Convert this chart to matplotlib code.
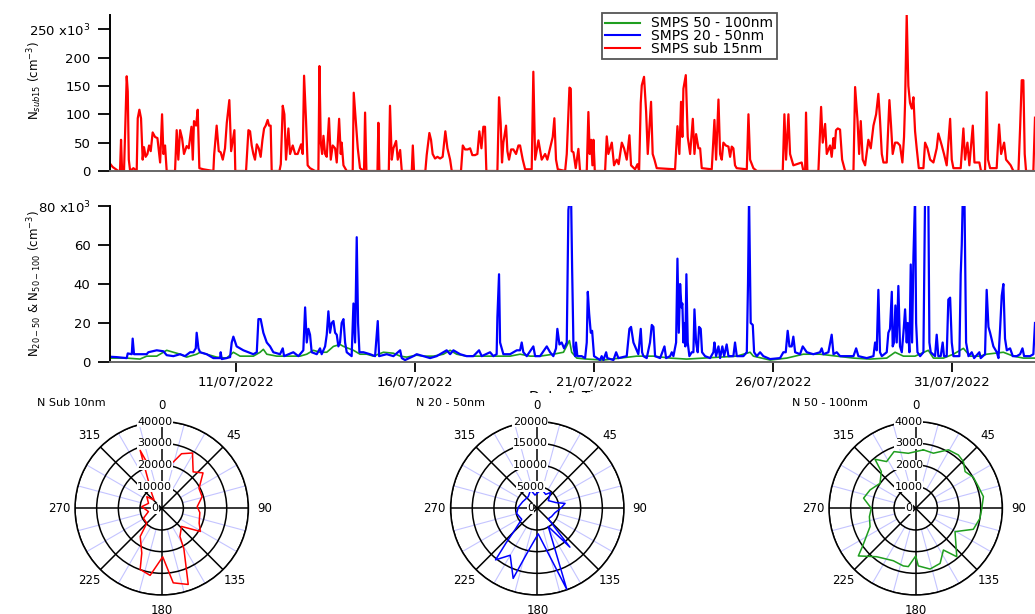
import numpy as np
import matplotlib
matplotlib.use("Agg")
import matplotlib.pyplot as plt
import matplotlib.dates as mdates
from matplotlib.lines import Line2D
from matplotlib.patches import Rectangle

# ---- time series (hours after 07/07/2022 00:00, values in 10^3 cm-3) ----
start_date = "2022-07-07"

red_hours = [11.5, 13.3, 17.1, 18.2, 18.9, 19.6, 20.9, 22.0, 22.7, 23.4,
             24.1, 25.0, 27.2, 29.4, 30.1, 31.2, 32.3, 33.4, 34.3, 35.4,
             36.6, 37.7, 38.8, 40.1, 41.7, 43.3, 45.1, 46.4, 47.3, 48.4,
             49.5, 55.1, 56.2, 57.3, 58.5, 59.8, 61.1, 62.9, 64.3, 66.1,
             67.0, 67.8, 69.2, 70.3, 71.4, 74.1, 80.8, 81.3, 83.0, 84.4,
             85.7, 87.1, 88.6, 89.8, 91.5, 92.7, 94.9, 95.5, 102.7, 104.3,
             105.4, 106.5, 107.6, 108.7, 109.9, 111.2, 112.5, 113.7, 114.8, 115.9,
             117.2, 118.1, 119.2, 119.9, 125.1, 126.0, 127.3, 128.4, 129.5, 131.1,
             132.2, 134.0, 135.6, 137.3, 139.6, 140.7, 141.6, 142.9, 144.0, 145.6,
             149.0, 151.2, 151.9, 152.8, 153.7, 154.6, 155.7, 156.8, 158.3, 159.5,
             160.8, 162.4, 163.5, 165.1, 166.2, 166.8, 168.0, 170.2, 174.2, 174.9,
             176.4, 177.6, 179.1, 181.8, 182.5, 183.4, 190.8, 191.4, 192.1, 198.4,
             199.2, 200.4, 201.5, 203.3, 204.4, 206.0, 207.1, 213.8, 214.5, 215.3,
             222.9, 223.8, 225.6, 226.7, 227.8, 229.4, 231.0, 232.8, 234.5, 236.3,
             237.7, 239.5, 240.6, 246.8, 248.0, 249.5, 251.3, 252.9, 254.4, 256.2,
             257.8, 259.1, 260.5, 261.8, 262.9, 263.8, 271.2, 272.3, 273.4, 274.3,
             275.2, 277.0, 277.9, 279.0, 280.4, 281.9, 283.7, 285.3,
             286.4, 288.2, 289.8, 294.2, 295.3, 296.5, 298.7, 300.9, 303.2, 304.7,
             306.5, 308.3, 309.4, 310.5, 311.7, 316.6, 317.7, 319.5, 320.4, 321.0,
             322.2, 323.7, 325.5, 326.6, 331.1, 332.2, 333.1, 334.0, 334.9, 335.6,
             336.5, 343.4, 344.5, 345.6, 347.9, 349.4, 351.2, 352.5, 354.6, 356.1,
             357.9, 359.7, 360.8, 363.5, 365.1, 366.2, 367.3, 368.0, 369.5, 370.9,
             372.0, 374.2, 375.3, 376.5, 378.0, 390.3, 391.9, 393.2, 394.3, 395.2,
             395.9, 397.5, 398.8, 400.4, 402.2, 403.3, 404.4, 406.0, 407.1, 408.2,
             414.9, 416.7, 417.8, 419.4, 420.5, 421.6, 422.7, 424.3, 426.1, 427.2,
             428.3, 429.4, 430.5, 431.6, 438.4, 439.5, 440.6, 442.8, 445.1, 462.5,
             463.6, 464.7, 466.3, 467.4, 469.6, 475.2, 476.3, 477.5, 478.1, 479.0,
             486.4, 488.2, 489.3, 490.9, 492.0, 494.2, 495.3, 496.5, 497.3, 498.2,
             499.4, 500.9, 502.3, 504.3, 509.9, 511.0, 512.6, 513.7, 514.8, 516.1,
             517.7, 519.9, 521.5, 523.3, 525.1, 526.6, 527.7, 528.9, 530.0, 532.2,
             534.0, 535.1, 536.2, 537.8, 539.4, 541.1, 542.7, 543.8, 544.5, 545.6,
             546.7, 547.8, 549.0, 550.1, 551.2, 552.3, 553.7, 556.8, 557.9, 559.5,
             561.3, 563.5, 565.7, 566.8, 569.1, 570.6, 572.4, 574.7, 575.8, 576.9,
             581.8, 583.6, 584.7, 586.3, 587.6, 589.9, 591.0, 594.3, 595.4, 598.1,
             599.2, 600.1, 601.5, 605.9, 607.5, 608.9, 610.9, 612.2, 613.8, 615.3,
             617.1, 620.5, 621.6, 622.7, 623.8, 624.7, 625.6, 630.5, 631.6]
red_vals = [13, 7, 0, 0, 55, 0, 0, 102, 167, 140,
            20, 0, 5, 0, 93, 108, 93, 20, 42, 25,
            30, 45, 35, 68, 60, 58, 15, 100, 30, 45,
            0, 0, 72, 20, 72, 58, 30, 44, 40, 78,
            20, 88, 80, 108, 5, 3, 0, 28, 80, 35,
            33, 20, 40, 85, 125, 35, 72, 0, 0, 72,
            70, 45, 30, 20, 47, 40, 25, 55, 75, 80,
            90, 80, 80, 0, 0, 12, 115, 100, 20, 75,
            30, 45, 30, 30, 47, 30, 168, 90, 10, 5,
            0, 0, 185, 50, 30, 62, 30, 25, 93, 20,
            45, 40, 15, 92, 30, 50, 10, 0, 0, 138,
            85, 40, 5, 0, 103, 0, 0, 85, 0, 0,
            115, 20, 40, 53, 20, 37, 0, 0, 45, 0,
            0, 28, 67, 55, 30, 22, 25, 22, 25, 70,
            40, 20, 0, 0, 45, 38, 38, 40, 28, 28,
            30, 70, 40, 78, 78, 0, 0, 130, 85, 15,
            50, 80, 35, 20, 38, 38, 30, 45,
            45, 20, 3, 3, 175, 20, 54, 20, 30, 20,
            40, 60, 93, 20, 3, 0, 30, 147, 145, 35,
            33, 5, 39, 0, 0, 104, 30, 55, 10, 55,
            0, 0, 61, 30, 50, 10, 20, 12, 50, 40,
            20, 63, 10, 3, 12, 0, 120, 151, 166, 105,
            30, 122, 30, 20, 5, 3, 79, 30, 122, 60,
            145, 169, 60, 30, 92, 30, 65, 40, 40, 5,
            3, 90, 20, 126, 30, 20, 50, 45, 43, 25,
            43, 40, 10, 5, 3, 100, 20, 5, 0, 0,
            100, 20, 100, 30, 10, 15, 0, 0, 103, 0,
            0, 113, 50, 83, 30, 45, 25, 58, 40, 72,
            75, 73, 20, 0, 0, 148, 90, 30, 88, 20,
            10, 55, 40, 80, 100, 136, 90, 30, 15, 15,
            125, 80, 30, 50, 50, 45, 15, 60, 120, 275,
            150, 120, 110, 130, 70, 40, 5, 5, 50, 40,
            20, 15, 40, 66, 45, 30, 10, 92, 20, 5,
            5, 75, 20, 50, 10, 80, 15, 15, 0, 0,
            139, 20, 5, 5, 82, 30, 50, 20, 15, 10,
            0, 0, 75, 160, 160, 30, 0, 0, 94]

blue_hours = [11.5, 16.0, 22.7, 23.4, 26.1, 26.7, 27.6, 36.1, 37.2, 42.8,
              47.3, 49.5, 54.0, 58.5, 61.8, 65.2, 67.4, 69.0, 69.6, 70.8,
              71.9, 76.3, 80.8, 85.3, 85.7, 86.4, 89.7, 92.0, 93.1, 94.2,
              96.4, 100.9, 107.6, 109.9, 111.0, 112.5, 114.3, 116.6, 118.8, 121.0,
              125.5, 127.3, 128.2, 134.4, 137.8, 141.1, 142.3, 143.4, 144.5, 145.6,
              146.7, 150.1, 152.3, 153.4, 155.7, 156.8, 157.9, 159.0, 160.1, 161.3,
              162.4, 163.5, 164.6, 165.7, 166.8, 168.0, 169.1, 170.2, 173.5, 174.7,
              175.8, 176.9, 177.8, 178.7, 181.4, 185.8, 189.2, 191.0, 191.9, 197.0,
              201.5, 206.0, 207.1, 209.3, 214.9, 217.1, 221.6, 226.1, 230.5, 235.0,
              237.2, 239.5, 241.7, 246.2, 250.6, 255.1, 258.9, 260.7, 266.3, 268.5,
              270.7, 271.2, 272.3, 273.0, 275.2, 279.7, 284.2,
              286.4, 287.5, 288.6, 290.9, 295.3, 296.5, 299.8, 304.3, 306.5, 308.7,
              310.5, 311.4, 312.8, 314.3, 315.9, 317.7, 318.8, 319.9, 320.6, 321.3,
              322.2, 323.3, 323.9, 324.8, 327.7, 330.0, 331.1, 331.8, 332.7, 333.8,
              334.7, 336.0, 340.0, 341.1, 342.3, 344.1, 344.9, 349.0, 350.8, 352.3,
              357.9, 359.7, 360.8, 362.4, 364.6, 365.7, 367.3, 368.2, 369.1, 371.3,
              373.5, 374.7, 375.8, 376.9, 380.3, 383.2, 384.3, 387.0, 388.1, 389.2,
              391.0, 391.9, 392.8, 393.7, 394.6, 395.2, 395.9, 396.6, 397.2, 397.9,
              398.8, 399.9, 401.5, 402.6, 403.3, 404.4, 405.5, 406.4, 407.5, 408.4,
              410.4, 413.8, 416.0, 416.7, 417.8, 419.4, 420.5, 422.0, 423.2, 424.9,
              426.1, 429.4, 430.5, 431.7, 436.1, 438.4, 439.2, 439.9, 441.0, 442.4,
              443.3, 445.1, 447.3, 449.5, 454.0, 460.7, 462.9, 464.5, 465.8, 467.0,
              468.5, 469.6, 470.8, 474.1, 475.9, 478.6, 483.0, 487.5, 488.6, 489.7,
              493.1, 495.3, 496.5, 498.7, 500.9, 509.9, 511.7, 513.2, 518.8, 523.3,
              524.4, 525.5, 526.6, 527.7, 528.9, 532.2, 533.3, 534.4, 535.6, 536.2,
              537.1, 538.0, 538.9, 540.0, 541.1, 542.3, 543.4, 544.5, 545.6, 546.3,
              547.4, 548.3, 549.2, 550.1, 551.2, 551.9, 552.8, 554.6, 556.8, 557.9,
              559.0, 560.1, 560.8, 561.7, 564.6, 565.7, 566.8, 568.4, 569.7, 570.6,
              572.4, 573.5, 574.7, 575.8, 576.9, 580.9, 581.8, 582.5, 583.2, 584.3,
              585.4, 587.0, 589.2, 590.8, 594.3, 595.2, 598.1, 599.2, 600.4, 601.5,
              603.7, 606.0, 607.1, 608.2, 609.3, 610.4, 611.5, 612.7, 614.9, 616.7,
              619.4, 621.6, 623.2, 624.3, 628.3, 630.5, 631.6]
blue_vals = [2.7, 2.5, 2, 4.4, 4, 12, 4, 4, 5, 6,
             5.5, 3.5, 3, 4, 3, 5, 5, 7, 15, 7,
             5, 4, 2, 2, 5, 1.5, 2, 2.5, 10, 13,
             8, 6, 4, 5, 22, 22, 15, 10, 8, 5,
             4, 7, 3, 5, 3, 6, 28, 10, 17, 14,
             5, 4, 7, 4, 8, 14, 26, 15, 20, 21,
             15, 14, 8, 10, 20, 22, 10, 5, 3, 30,
             10, 64, 20, 5, 5, 4, 3, 21, 3, 4,
             3, 6, 2, 1, 3, 4, 3, 2, 3, 5,
             6, 4, 6, 4, 3, 3, 6, 3, 5, 3,
             4, 23, 45, 10, 4, 4, 6,
             6, 10, 5, 3, 8, 3, 3, 8, 5, 3,
             7, 17, 9, 10, 7, 10, 78, 85, 85, 48,
             8, 3, 10, 3, 3, 2, 10, 36, 25, 15,
             16, 3, 1, 3, 1, 5, 2, 1, 5, 2,
             3, 17, 18, 10, 6, 4, 17, 5, 3, 2,
             10, 19, 18, 3, 2, 8, 2, 3, 5, 3,
             10, 53, 15, 40, 28, 30, 10, 20, 8, 45,
             10, 3, 5, 5, 27, 10, 5, 18, 17, 5,
             3, 2, 5, 10, 3, 8, 2, 8, 3, 9,
             3, 3, 10, 3, 3, 5, 40, 85, 20, 19,
             5, 3, 5, 3, 1.5, 2, 5, 5, 16, 8,
             8, 13, 5, 4, 8, 5, 4, 5, 7, 4,
             5, 14, 4, 5, 3, 3, 7, 3, 2, 3,
             10, 6, 37, 5, 3, 5, 15, 17, 36, 8,
             10, 29, 10, 39, 8, 5, 15, 27, 10, 20,
             5, 50, 10, 54, 85, 20, 5, 3, 5, 85,
             85, 85, 10, 5, 3, 14, 3, 3, 10, 3,
             3, 32, 33, 10, 3, 3, 45, 60, 85, 85,
             10, 3, 5, 2, 5, 2, 4, 37, 18, 15,
             8, 5, 2, 17, 34, 40, 12, 6, 7, 3,
             3, 4, 7, 3, 3, 4, 20]

green_hours = [11.5, 22.7, 31.6, 36.1, 42.8, 49.5, 54.0, 58.5, 62.9, 69.6,
               71.9, 76.3, 83.0, 89.7, 94.2, 98.7, 107.6, 112.1, 114.3, 116.6,
               123.3, 132.2, 138.9, 143.4, 147.8, 152.3, 156.8, 161.3, 165.7, 168.0,
               174.7, 179.1, 183.6, 188.1, 194.8, 201.5, 206.0, 210.4, 217.1, 221.6,
               228.3, 235.0, 239.5, 243.9, 250.6, 259.6, 266.3, 273.0, 279.7,
               286.4, 293.1, 299.8, 308.7, 315.5, 319.5, 321.0, 324.4, 331.1, 342.3,
               353.4, 364.6, 375.8, 387.0, 398.1, 409.3, 420.5, 431.7, 440.6, 442.8,
               454.0, 465.2, 476.3, 487.5, 498.7, 509.9, 521.0, 532.2, 537.8, 543.4,
               551.2, 560.1, 563.5, 570.2, 576.9, 583.6, 588.1, 594.8, 599.2, 610.4,
               617.1, 623.8, 631.6]
green_vals = [2, 2, 1.5, 3, 3, 6, 5, 4, 2.5, 4,
              5, 4, 2.5, 2, 5, 3, 3, 5, 6.5, 4,
              3, 3, 3, 4, 6, 5, 5, 8, 9, 8,
              6, 4, 4, 3, 5, 4.5, 3, 2.5, 3.5, 3,
              3, 4, 6, 4, 3, 3, 3, 3, 3,
              4, 3, 3, 4, 5, 11, 5, 2, 1.5, 1,
              2, 3, 3, 2, 1.5, 2, 2.5, 3, 5, 3,
              1, 2, 4, 4, 3, 2, 1.5, 2, 5, 3,
              3, 6, 2, 2, 4, 7, 3, 3, 4, 5,
              3, 2, 2]

date_ticks = ["2022-07-11", "2022-07-16", "2022-07-21", "2022-07-26", "2022-07-31"]
x_range_hours = [11.5, 631.6]

# ---- wind roses (direction in degrees, concentration in cm-3) ----
sub10_dir = [2.3, 14.0, 20.0, 29.1, 40.8, 49.4, 62.0, 74.0, 87.3, 96.4,
             111.7, 120.9, 132.5, 147.1, 151.4, 160.8, 171.2, 178.8, 189.8, 199.4,
             204.0, 217.4, 225.0, 241.4, 256.0, 274.8, 290.6, 307.9, 317.4, 326.3,
             339.6, 343.3]
sub10_conc = [19100, 22000, 26800, 29200, 22200, 25100, 19500, 19400, 16400, 17700,
              18600, 20800, 12400, 15500, 21400, 37200, 34800, 22400, 31400, 29900,
              22600, 16300, 9700, 9600, 6300, 9200, 6500, 8700, 5200, 8300,
              28500, 20200]
n2050_dir = [13, 31, 40, 55, 73, 80, 90, 104, 120, 134,
             140, 149, 160, 178, 193, 199, 210, 219, 222, 226,
             235, 256, 273, 294, 322, 340, 350]
n2050_conc = [4500, 3750, 4750, 3100, 4500, 6500, 5400, 4200, 3800, 3500,
              11700, 4900, 19900, 5900, 10700, 17100, 12500, 15300, 10800, 7200,
              4400, 4900, 4400, 3700, 3400, 4500, 3100]
n50100_dir = [7.5, 17.8, 29.2, 38.7, 45.6, 53.4, 61.7, 70.9, 80.2, 90.0,
              98.8, 110.0, 120.7, 139.7, 146.4, 156.1, 166.7, 177.4, 180.0, 187.2,
              192.1, 203.1, 218.9, 230.3, 234.6, 248.1, 259.8, 270.0, 281.0, 291.9,
              305.0, 316.9, 320.3, 328.1, 339.1, 352.4]
n50100_conc = [2720, 2670, 3090, 3150, 3080, 2840, 3020, 3060, 3170, 3050,
               3000, 2830, 2110, 2930, 2310, 2780, 2880, 2660, 2200, 2710,
               2720, 2630, 2870, 3440, 3000, 2270, 2170, 2050, 2450, 2270,
               2010, 2320, 2940, 2540, 2800, 2560]

RED = "#ff0000"
BLUE = "#0000ff"
GREEN = "#1f9e1f"

plt.rcParams["font.family"] = ["DejaVu Sans"]

W, H = 1035, 614
fig = plt.figure(figsize=(W / 100, H / 100), dpi=100)

t0 = mdates.date2num(np.datetime64(start_date))


def to_num(hours):
    return t0 + np.asarray(hours, dtype=float) / 24.0


def style_line_axes(ax):
    ax.spines["top"].set_visible(False)
    ax.spines["right"].set_visible(False)
    ax.spines["left"].set_linewidth(1.4)
    ax.spines["bottom"].set_color("#666666")
    ax.spines["bottom"].set_linewidth(1.4)
    ax.tick_params(axis="y", direction="out", length=9, width=1.3, pad=5, labelsize=9.5)
    ax.set_xlim(to_num(x_range_hours))
    ax.patch.set_alpha(0)


# top panel
ax1 = fig.add_axes([110 / W, 1 - 171 / H, 925 / W, 156 / H])
ax1.plot(to_num(red_hours), red_vals, color=RED, lw=1.6)
ax1.set_ylim(0, 275)
ax1.set_yticks([0, 50, 100, 150, 200, 250])
ax1.set_yticklabels(["0", "50", "100", "150", "200", "250 x10$^{3}$"])
style_line_axes(ax1)
ax1.tick_params(axis="x", length=0, labelbottom=False)
ax1.set_ylabel("N$_{sub15}$ (cm$^{-3}$)", fontsize=8.5)
ax1.yaxis.set_label_coords(-66 / 925, 0.58)

handles = [Line2D([], [], color=GREEN, lw=1.5),
           Line2D([], [], color=BLUE, lw=1.5),
           Line2D([], [], color=RED, lw=1.5)]
leg = ax1.legend(handles, ["SMPS 50 - 100nm", "SMPS 20 - 50nm", "SMPS sub 15nm"],
                 loc="upper left", bbox_to_anchor=(602 / W, 1 - 13 / H),
                 bbox_transform=fig.transFigure, borderaxespad=0, fontsize=10,
                 fancybox=False, framealpha=1, edgecolor="#555555",
                 handlelength=2.5, handletextpad=0.8, labelspacing=-0.1,
                 borderpad=0.25)
leg.get_frame().set_linewidth(1.3)

# middle panel
ax2 = fig.add_axes([110 / W, 1 - 362 / H, 925 / W, 156 / H])
ax2.plot(to_num(green_hours), green_vals, color=GREEN, lw=1.2)
ax2.plot(to_num(blue_hours), blue_vals, color=BLUE, lw=1.6)
ax2.set_ylim(0, 80)
ax2.set_yticks([0, 20, 40, 60, 80])
ax2.set_yticklabels(["0", "20", "40", "60", "80 x10$^{3}$"])
style_line_axes(ax2)
ax2.set_xticks(mdates.date2num(np.array(date_ticks, dtype="datetime64[D]")))
ax2.xaxis.set_major_formatter(mdates.DateFormatter("%d/%m/%Y"))
ax2.tick_params(axis="x", direction="out", length=7, width=1.3, pad=3, labelsize=9.5)
ax2.set_ylabel("N$_{20-50}$ & N$_{50-100}$ (cm$^{-3}$)", fontsize=8.5)
ax2.yaxis.set_label_coords(-66 / 925, 0.5)

# x label: in the original only its upper edge peeks out above the rose titles
ax2.set_xlabel("Date & Time", fontsize=10)
ax2.xaxis.set_label_coords(0.5, -28 / 156)
ax2.xaxis.label.set_va("top")
cover = Rectangle((470 / W, 1 - 406 / H), 240 / W, 13.5 / H, transform=fig.transFigure,
                  facecolor="white", edgecolor="none", zorder=20, clip_on=False)
ax2.add_artist(cover)


# wind roses
def rose(cx, directions, conc, color, rings, title, title_x):
    R = 86.7
    ax = fig.add_axes([(cx - R) / W, (H - 508.3 - R) / H, 2 * R / W, 2 * R / H],
                      projection="polar")
    ax.set_theta_zero_location("N")
    ax.set_theta_direction(-1)
    rmax = rings[-1]
    minor = [a for a in range(0, 360, 15) if a % 45]
    ax.vlines(np.deg2rad(minor), rings[0], rmax, color="#c4c4ff", lw=0.8, zorder=1)
    th = np.deg2rad(np.append(directions, directions[0]))
    rr = np.append(conc, conc[0])
    ax.plot(th, rr, color=color, lw=1.1, zorder=3)
    ax.set_ylim(0, rmax)
    ax.set_yticks(rings)
    ax.set_yticklabels([])
    ax.set_xticks(np.deg2rad(np.arange(0, 360, 45)))
    ax.set_xticklabels([str(a) for a in range(0, 360, 45)], fontsize=8.5)
    ax.tick_params(axis="x", pad=1)
    ax.grid(True, color="k", lw=1.1)
    ax.spines["polar"].set_linewidth(1.1)
    for v in [0] + list(rings):
        ax.annotate(str(v), (0, v), xytext=(-5, 0), textcoords="offset points",
                    ha="center", va="center", fontsize=8,
                    bbox=dict(fc="white", ec="none", pad=0.2), zorder=5)
    fig.text(title_x / W, 1 - 403 / H, title, fontsize=8, va="center", zorder=6)
    return ax


rose(161.7, sub10_dir, sub10_conc, RED, [10000, 20000, 30000, 40000], "N Sub 10nm", 37)
rose(537.3, n2050_dir, n2050_conc, BLUE, [5000, 10000, 15000, 20000], "N 20 - 50nm", 416)
rose(915.7, n50100_dir, n50100_conc, GREEN, [1000, 2000, 3000, 4000], "N 50 - 100nm", 792)

fig.savefig("out.png", dpi=100)
